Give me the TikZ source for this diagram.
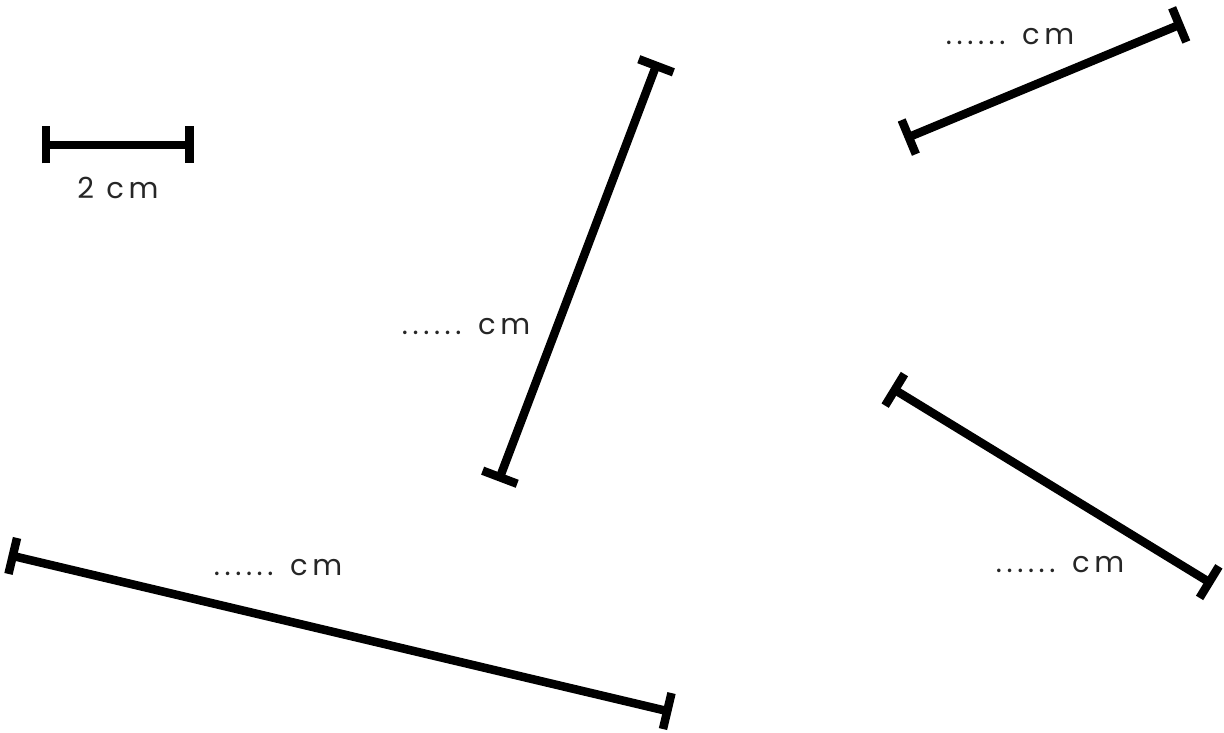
\documentclass[tikz,border=0pt]{standalone}
\usepackage{fontspec}
\setmainfont{Poppins}[LetterSpace=16]
\usetikzlibrary{arrows.meta}
\begin{document}
\begin{tikzpicture}[x=1pt,y=-1pt,
  seg/.style={line width=8.5pt, shorten <=-4.5pt, shorten >=-4.5pt, {Bar[width=37pt,line width=8.5pt]}-{Bar[width=37pt,line width=8.5pt]}},
  lbl/.style={font=\fontsize{29}{34}\selectfont\addfontfeature{LetterSpace=16}, text=black!85, inner sep=0pt}]
\useasboundingbox (0,0) rectangle (1224,733);
% scale bar
\coordinate (s1) at (46,145);
\coordinate (s2) at (189,145);
\draw[seg] (s1) -- (s2);
\node[lbl] (ls) at (118,188) {2 cm};
% middle segment
\coordinate (m1) at (500,477);
\coordinate (m2) at (656,66);
\draw[seg] (m1) -- (m2);
\node[lbl] (lm) at (466,327) {...... cm};
% top right
\coordinate (t1) at (909,137);
\coordinate (t2) at (1179,25);
\draw[seg] (t1) -- (t2);
\node[lbl] (lt) at (1010,37) {...... cm};
% right
\coordinate (r1) at (895,390);
\coordinate (r2) at (1209,582);
\draw[seg] (r1) -- (r2);
\node[lbl] (lr) at (1060,565) {...... cm};
% bottom
\coordinate (b1) at (13,556);
\coordinate (b2) at (667,711);
\draw[seg] (b1) -- (b2);
\node[lbl] (lb) at (278,568) {...... cm};
\end{tikzpicture}
\end{document}
